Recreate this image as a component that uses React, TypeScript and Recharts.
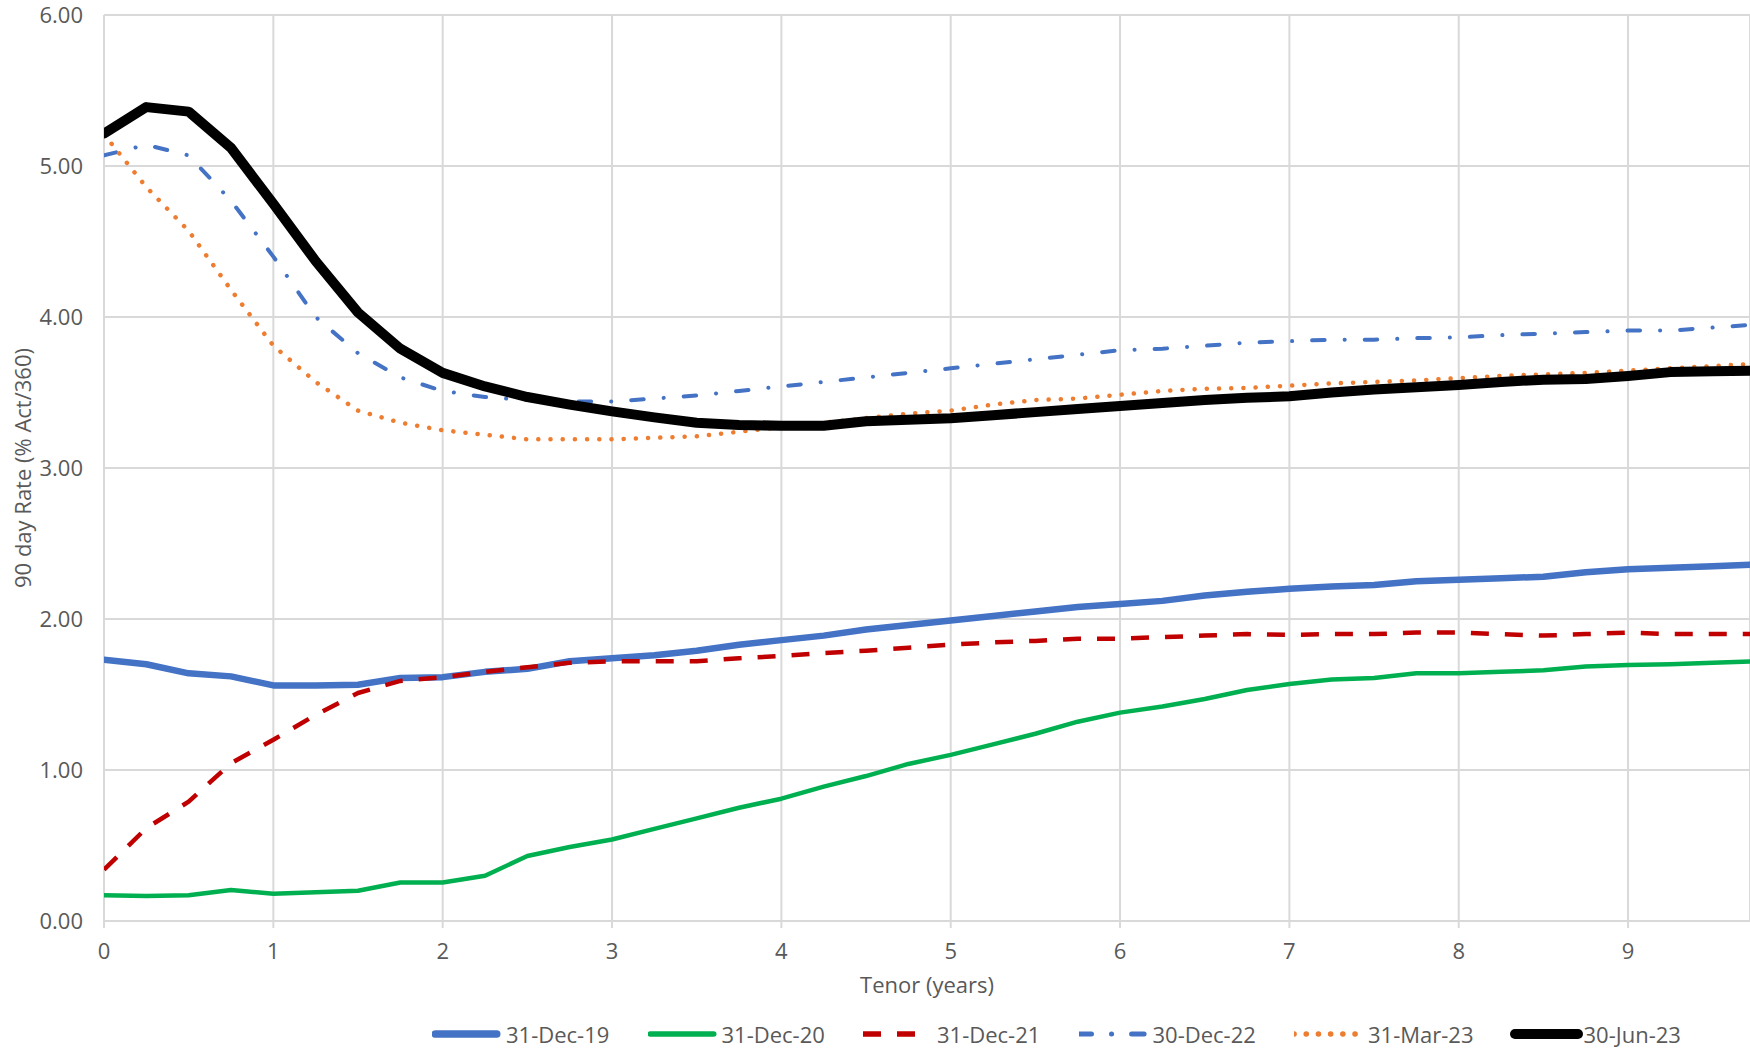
import { CartesianGrid, Label, Line, LineChart, XAxis, YAxis } from 'recharts'

// tenor in years, one point per quarter
const tenor = [
  0, 0.25, 0.5, 0.75, 1, 1.25, 1.5, 1.75, 2, 2.25, 2.5, 2.75, 3, 3.25, 3.5, 3.75, 4, 4.25, 4.5, 4.75,
  5, 5.25, 5.5, 5.75, 6, 6.25, 6.5, 6.75, 7, 7.25, 7.5, 7.75, 8, 8.25, 8.5, 8.75, 9, 9.25, 9.5, 9.75,
]

const dec19 = [
  1.73, 1.7, 1.64, 1.62, 1.56, 1.56, 1.565, 1.61, 1.615, 1.65, 1.67, 1.72, 1.74, 1.76, 1.79, 1.83, 1.86, 1.89, 1.93, 1.96,
  1.99, 2.02, 2.05, 2.08, 2.1, 2.12, 2.155, 2.18, 2.2, 2.215, 2.225, 2.25, 2.26, 2.27, 2.28, 2.31, 2.33, 2.34, 2.35, 2.36,
]

const dec20 = [
  0.17, 0.165, 0.17, 0.205, 0.18, 0.19, 0.2, 0.255, 0.255, 0.3, 0.43, 0.49, 0.54, 0.61, 0.68, 0.75, 0.81, 0.89, 0.96, 1.04,
  1.1, 1.17, 1.24, 1.32, 1.38, 1.42, 1.47, 1.53, 1.57, 1.6, 1.61, 1.64, 1.64, 1.65, 1.66, 1.685, 1.695, 1.7, 1.71, 1.72,
]

const dec21 = [
  0.34, 0.615, 0.79, 1.045, 1.2, 1.365, 1.51, 1.59, 1.615, 1.65, 1.68, 1.71, 1.72, 1.72, 1.72, 1.74, 1.755, 1.775, 1.79, 1.81,
  1.83, 1.845, 1.855, 1.87, 1.87, 1.88, 1.89, 1.9, 1.895, 1.9, 1.9, 1.91, 1.91, 1.9, 1.89, 1.9, 1.91, 1.9, 1.9, 1.9,
]

const dec22 = [
  5.07, 5.14, 5.07, 4.77, 4.4, 4.0, 3.76, 3.6, 3.51, 3.47, 3.45, 3.44, 3.44, 3.46, 3.48, 3.51, 3.54, 3.57, 3.6, 3.63,
  3.66, 3.69, 3.72, 3.75, 3.78, 3.79, 3.81, 3.83, 3.84, 3.85, 3.85, 3.86, 3.865, 3.88, 3.89, 3.9, 3.91, 3.91, 3.93, 3.95,
]

const mar23 = [
  5.21, 4.86, 4.57, 4.18, 3.81, 3.57, 3.38, 3.3, 3.25, 3.22, 3.19, 3.19, 3.19, 3.2, 3.21, 3.24, 3.27, 3.3, 3.33, 3.36,
  3.38, 3.42, 3.45, 3.46, 3.485, 3.51, 3.525, 3.53, 3.545, 3.56, 3.57, 3.58, 3.595, 3.61, 3.62, 3.63, 3.645, 3.66, 3.675, 3.69,
]

const jun23 = [
  5.215, 5.39, 5.36, 5.12, 4.75, 4.37, 4.03, 3.79, 3.63, 3.54, 3.47, 3.42, 3.375, 3.335, 3.3, 3.285, 3.28, 3.28, 3.31, 3.32,
  3.33, 3.35, 3.37, 3.39, 3.41, 3.43, 3.45, 3.465, 3.475, 3.5, 3.52, 3.535, 3.55, 3.57, 3.585, 3.59, 3.61, 3.635, 3.64, 3.645,
]

const xTicks = [0, 1, 2, 3, 4, 5, 6, 7, 8, 9]
const yTicks = [0, 1, 2, 3, 4, 5, 6]

const series = [
  { key: 'dec19', name: '31-Dec-19', values: dec19, color: '#4472C4', width: 6.5, dash: undefined, cap: 'round' },
  { key: 'dec20', name: '31-Dec-20', values: dec20, color: '#00B050', width: 4.5, dash: undefined, cap: 'round' },
  { key: 'dec21', name: '31-Dec-21', values: dec21, color: '#C00000', width: 4.5, dash: '18 16', cap: 'butt' },
  { key: 'dec22', name: '30-Dec-22', values: dec22, color: '#4472C4', width: 4, dash: '12.5 20 0.1 20', cap: 'round' },
  { key: 'mar23', name: '31-Mar-23', values: mar23, color: '#ED7D31', width: 4.5, dash: '0.1 12.1', cap: 'round' },
  { key: 'jun23', name: '30-Jun-23', values: jun23, color: '#000000', width: 10, dash: undefined, cap: 'round' },
]

const data = tenor.map((t, i) => {
  const row: Record<string, number> = { tenor: t }
  series.forEach((s) => {
    row[s.key] = s.values[i]
  })
  return row
})

const font = '"Open Sans", "Noto Sans", sans-serif'
const fontSize = 22
const textColor = '#595959'
const gridColor = '#D9D9D9'

function YTitle({ viewBox }: any) {
  const cy = viewBox.y + viewBox.height / 2
  return (
    <text
      x={22}
      y={cy}
      transform={`rotate(-90, 22, ${cy})`}
      textAnchor="middle"
      dominantBaseline="central"
      fill={textColor}
      fontSize={fontSize}
      fontFamily={font}
    >
      90 day Rate (% Act/360)
    </text>
  )
}

function ChartLegend() {
  return (
    <div
      style={{
        position: 'absolute',
        left: 432,
        top: 1020,
        display: 'flex',
        fontFamily: font,
        fontSize,
        color: textColor,
      }}
    >
      {series.map((s) => (
        <div key={s.key} style={{ width: 215.5, display: 'flex', alignItems: 'center', height: 28 }}>
          <svg width={s.key === 'jun23' ? 74 : 72} height={16} style={{ flex: 'none' }}>
            <line
              x1={s.cap === 'round' && !s.dash ? s.width / 2 : 0}
              x2={s.cap === 'round' && !s.dash ? (s.key === 'jun23' ? 73 : 68) - s.width / 2 : 68}
              y1={8}
              y2={8}
              stroke={s.color}
              strokeWidth={s.key === 'jun23' ? 10 : s.width + 1}
              strokeDasharray={s.dash}
              strokeLinecap={s.cap as any}
            />
          </svg>
          <span style={{ marginLeft: s.key === 'jun23' ? 0 : 2, whiteSpace: 'nowrap' }}>{s.name}</span>
        </div>
      ))}
    </div>
  )
}

export default function App() {
  return (
    <div
      style={{
        position: 'absolute',
        left: 0,
        top: 0,
        width: 1750,
        height: 1048,
        overflow: 'hidden',
        background: '#fff',
        fontFamily: font,
      }}
    >
      <LineChart width={1750} height={1048} data={data} margin={{ top: 15, right: 0, bottom: 87, left: 0 }}>
        <CartesianGrid stroke={gridColor} strokeWidth={2} />
        <XAxis
          type="number"
          dataKey="tenor"
          domain={[0, 9.72]}
          allowDataOverflow
          ticks={xTicks}
          interval={0}
          height={40}
          tick={{ fill: textColor, fontSize, fontFamily: font }}
          tickLine={{ stroke: gridColor, strokeWidth: 2 }}
          tickSize={7}
          tickMargin={15}
          axisLine={{ stroke: gridColor, strokeWidth: 2 }}
        >
          <Label
            value="Tenor (years)"
            position="bottom"
            offset={16}
            fill={textColor}
            fontSize={fontSize}
            fontFamily={font}
          />
        </XAxis>
        <YAxis
          type="number"
          domain={[0, 6]}
          ticks={yTicks}
          interval={0}
          width={104}
          tickFormatter={(v: number) => v.toFixed(2)}
          tick={{ fill: textColor, fontSize, fontFamily: font }}
          tickLine={false}
          tickSize={0}
          tickMargin={21}
          axisLine={false}
          label={{ content: YTitle }}
        />
        {series.map((s) => (
          <Line
            key={s.key}
            type="linear"
            dataKey={s.key}
            name={s.name}
            stroke={s.color}
            strokeWidth={s.width}
            strokeDasharray={s.dash}
            strokeLinecap={s.cap as any}
            strokeLinejoin="round"
            dot={false}
            activeDot={false}
            isAnimationActive={false}
          />
        ))}
      </LineChart>
      <ChartLegend />
    </div>
  )
}
